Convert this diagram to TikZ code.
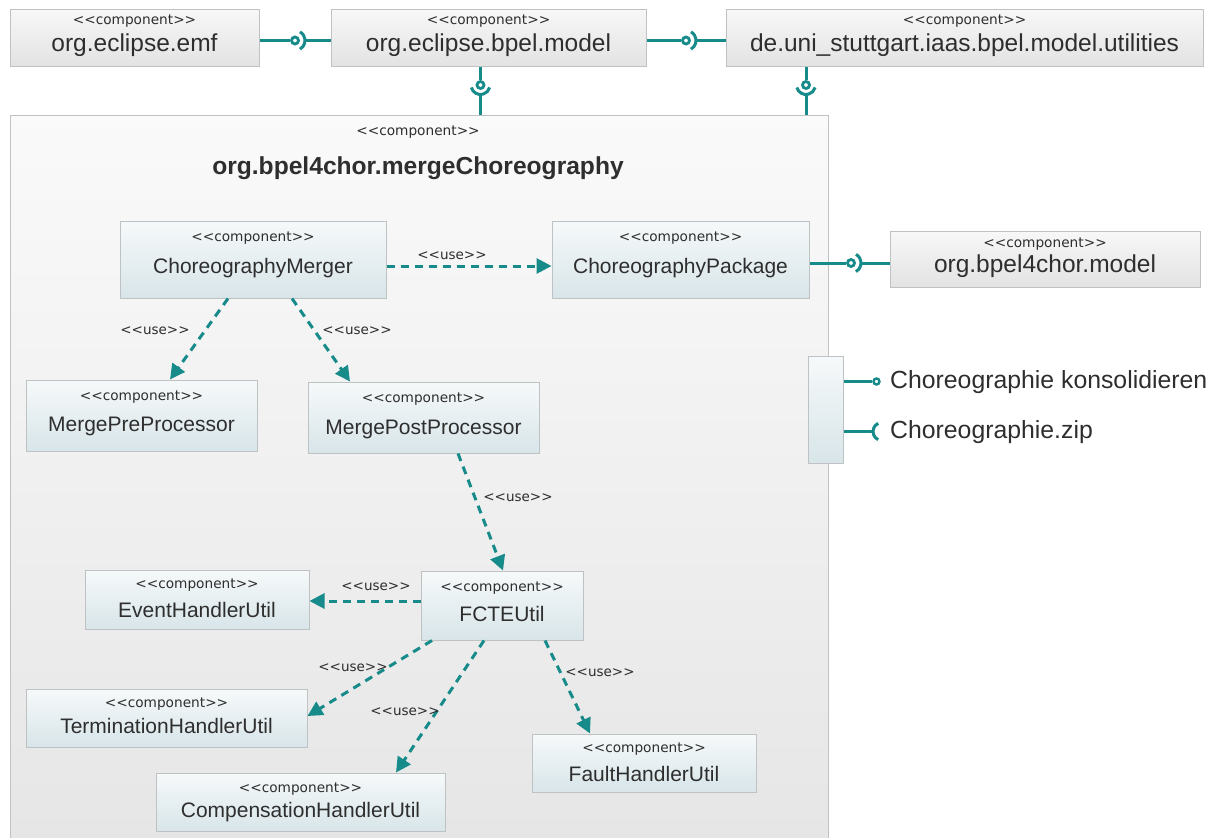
\documentclass[tikz,border=0pt]{standalone}
\usepackage{fontspec}
\setmainfont{Liberation Sans}
\newfontfamily\stfont{DejaVu Sans}[Ligatures=TeXOff]
\usetikzlibrary{arrows.meta}
\definecolor{ifteal}{HTML}{178A8A}
\definecolor{txt}{HTML}{2E2E2E}
\definecolor{edgegray}{HTML}{BEC2C2}
\begin{document}
\begin{tikzpicture}[x=1pt,y=-1pt,
  graybox/.style={draw=edgegray, line width=1pt, inner sep=0pt,
    top color=white!97!black, bottom color=white!89!black},
  bluebox/.style={draw=edgegray, line width=1pt, inner sep=0pt,
    top color={rgb,255:red,246;green,249;blue,250}, bottom color={rgb,255:red,216;green,229;blue,233}},
  stereo/.style={inner sep=0pt, text=txt, font=\stfont\fontsize{13.7}{16}\selectfont},
  bigname/.style={inner sep=0pt, text=txt, font=\fontsize{24.5}{28}\selectfont},
  cname/.style={inner sep=0pt, text=txt, font=\fontsize{21}{24}\selectfont},
  uselbl/.style={inner sep=0pt, text=txt, font=\stfont\fontsize{13.5}{16}\selectfont},
  dep/.style={draw=ifteal, line width=3pt, dash pattern=on 8pt off 6pt,
    -{Triangle[length=15pt,width=15pt,fill=ifteal]}},
  iface/.style={draw=ifteal, line width=3pt},
  ball/.style={circle, draw=ifteal, line width=2.8pt, fill=white, minimum size=7pt, inner sep=0pt}]

\clip (0,0) rectangle (1216,838);
\fill[white] (0,0) rectangle (1216,838);

% enclosing component
\node[draw=edgegray, line width=1pt, inner sep=0pt, top color=white!98!black, bottom color=white!90!black,
  minimum width=818pt, minimum height=740pt] (big) at (419,485) {};
\node[stereo] (bigst) at (418,132) {<<component>>};
\node[inner sep=0pt, text=txt, font=\bfseries\fontsize{24.6}{28}\selectfont] (bigt) at (418,168) {org.bpel4chor.mergeChoreography};

% external components along the top
\node[graybox, minimum width=249pt, minimum height=57pt] (emf) at (134.5,37.5) {};
\node[stereo] at (134.5,21.5) {<<component>>};
\node[bigname] at (134.5,45.5) {org.eclipse.emf};

\node[graybox, minimum width=315pt, minimum height=57pt] (bpel) at (488.5,37.5) {};
\node[stereo] at (488.5,21.5) {<<component>>};
\node[bigname] at (488.5,45.5) {org.eclipse.bpel.model};

\node[graybox, minimum width=477pt, minimum height=57pt] (util) at (964.5,37.5) {};
\node[stereo] at (964.5,21.5) {<<component>>};
\node[bigname] at (964.5,45.5) {de.uni\_stuttgart.iaas.bpel.model.utilities};

\node[graybox, minimum width=310pt, minimum height=56pt] (chormodel) at (1045,259) {};
\node[stereo] at (1045,244) {<<component>>};
\node[bigname] at (1045,266.5) {org.bpel4chor.model};

% inner components
\node[bluebox, minimum width=266pt, minimum height=77pt] (cm) at (253,259.5) {};
\node[stereo] at (253,238) {<<component>>};
\node[cname] at (253,268) {ChoreographyMerger};

\node[bluebox, minimum width=257pt, minimum height=77pt] (cp) at (680.5,259.5) {};
\node[stereo] at (680.5,238) {<<component>>};
\node[cname] at (680.5,268) {ChoreographyPackage};

\node[bluebox, minimum width=231pt, minimum height=71pt] (mpre) at (141.5,415.5) {};
\node[stereo] at (141.5,397) {<<component>>};
\node[cname] at (141.5,426) {MergePreProcessor};

\node[bluebox, minimum width=231pt, minimum height=71pt] (mpost) at (423.5,417.5) {};
\node[stereo] at (423.5,399) {<<component>>};
\node[cname] at (423.5,429) {MergePostProcessor};

\node[bluebox, minimum width=224pt, minimum height=59pt] (ehu) at (197,599.5) {};
\node[stereo] at (197,585) {<<component>>};
\node[cname] at (197,610) {EventHandlerUtil};

\node[bluebox, minimum width=162pt, minimum height=69pt] (fcte) at (502,605.5) {};
\node[stereo] at (502,588) {<<component>>};
\node[cname] at (502,614) {FCTEUtil};

\node[bluebox, minimum width=281pt, minimum height=58pt] (thu) at (166.5,718) {};
\node[stereo] at (166.5,704) {<<component>>};
\node[cname] at (166.5,726) {TerminationHandlerUtil};

\node[bluebox, minimum width=224pt, minimum height=58pt] (fhu) at (644,763) {};
\node[stereo] at (644,749) {<<component>>};
\node[cname] at (644,774) {FaultHandlerUtil};

\node[bluebox, minimum width=289pt, minimum height=58pt] (chu) at (300.5,802) {};
\node[stereo] at (300.5,789) {<<component>>};
\node[cname] at (300.5,812) {CompensationHandlerUtil};

% port of the enclosing component
\node[bluebox, minimum width=35pt, minimum height=107pt] (port) at (825.5,409.5) {};

% assembly connectors (ball and socket)
\node[ball] (b1) at (295,40.5) {};
\draw[iface] (emf.east |- b1) -- (b1.west);
\draw[iface] ([shift={(-60:10pt)}]b1.center) arc[start angle=-60, end angle=60, radius=10pt];
\draw[iface] ([xshift=10pt]b1.center) -- (b1 -| bpel.west);

\node[ball] (b2) at (686,40.5) {};
\draw[iface] (bpel.east |- b2) -- (b2.west);
\draw[iface] ([shift={(-60:10pt)}]b2.center) arc[start angle=-60, end angle=60, radius=10pt];
\draw[iface] ([xshift=10pt]b2.center) -- (b2 -| util.west);

\node[ball] (b3) at (480.5,85) {};
\draw[iface] (b3 |- bpel.south) -- (b3.north);
\draw[iface] ([shift={(195:9.5pt)}]b3.center) arc[start angle=195, end angle=345, radius=9.5pt];
\draw[iface] ([yshift=-9.5pt]b3.center) -- (b3 |- big.north);

\node[ball] (b4) at (806,85) {};
\draw[iface] (b4 |- util.south) -- (b4.north);
\draw[iface] ([shift={(195:9.5pt)}]b4.center) arc[start angle=195, end angle=345, radius=9.5pt];
\draw[iface] ([yshift=-9.5pt]b4.center) -- (b4 |- big.north);

\node[ball] (b5) at (851,263) {};
\draw[iface] (cp.east |- b5) -- (b5.west);
\draw[iface] ([shift={(-60:10pt)}]b5.center) arc[start angle=-60, end angle=60, radius=10pt];
\draw[iface] ([xshift=10pt]b5.center) -- (b5 -| chormodel.west);

% provided and required interfaces of the port
\node[ball, minimum size=6pt, line width=2.4pt] (prov) at (876.5,381.5) {};
\draw[iface] (port.east |- prov) -- (prov.west);
\node[anchor=west, inner sep=0pt, text=txt, font=\fontsize{24.8}{28}\selectfont] (provt) at (890,382) {Choreographie konsolidieren};

\coordinate (req) at (882,431.5);
\draw[iface] (port.east |- req) -- ([xshift=-9pt]req);
\draw[iface] ([shift={(115:9pt)}]req) arc[start angle=115, end angle=245, radius=9pt];
\node[anchor=west, inner sep=0pt, text=txt, font=\fontsize{24.8}{28}\selectfont] (reqt) at (890,432) {Choreographie.zip};

% usage dependencies
\draw[dep] ([yshift=-6.5pt]cm.east) -- ([yshift=-6.5pt]cp.west);
\node[uselbl] (u1) at (452,256) {<<use>>};

\draw[dep] ([xshift=-25pt]cm.south) -- ([xshift=28.5pt]mpre.north);
\node[uselbl] (u2) at (155,331) {<<use>>};

\draw[dep] ([xshift=39pt]cm.south) -- ([xshift=-73.5pt]mpost.north);
\node[uselbl] (u3) at (357,331) {<<use>>};

\draw[dep] ([xshift=34.5pt]mpost.south) -- ([xshift=1pt]fcte.north);
\node[uselbl] (u4) at (518,498) {<<use>>};

\draw[dep] ([yshift=4.5pt]fcte.west) -- ([yshift=-1.5pt]ehu.east);
\node[uselbl] (u5) at (376,587) {<<use>>};

\draw[dep] ([xshift=-70pt]fcte.south) -- ([yshift=2pt]thu.east);
\node[uselbl] (u6) at (353,668) {<<use>>};

\draw[dep] ([xshift=-18pt]fcte.south) -- ([xshift=95.5pt]chu.north);
\node[uselbl] (u7) at (405,712) {<<use>>};

\draw[dep] ([xshift=43pt]fcte.south) -- ([xshift=-54pt]fhu.north);
\node[uselbl] (u8) at (600,673) {<<use>>};

\end{tikzpicture}
\end{document}
